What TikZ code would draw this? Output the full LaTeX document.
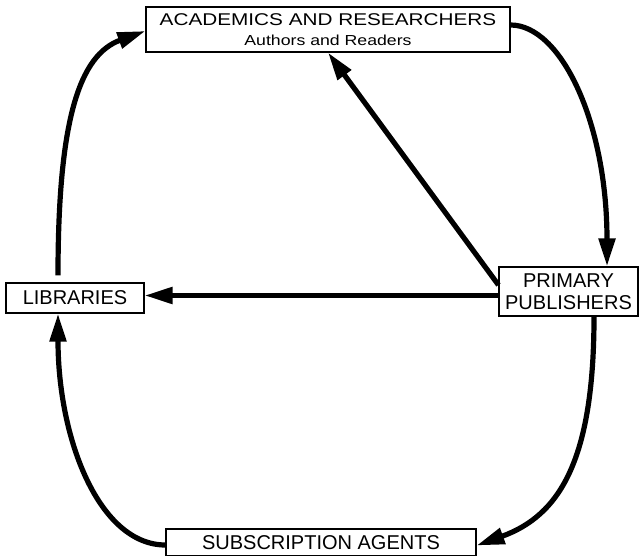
\documentclass[tikz,border=0pt]{standalone}
\usepackage{fontspec}
\setmainfont{Liberation Sans}
\newfontfamily\widefont[FakeStretch=1.22]{Liberation Sans}
\usetikzlibrary{arrows.meta}

\begin{document}
\begin{tikzpicture}[x=1pt, y=-1pt,
        box/.style={draw, line width=1.1pt, inner sep=0pt, align=center, font=\fontsize{20}{22}\selectfont},
        flow/.style={line width=5.2pt, -{Triangle[length=28pt, width=16pt]}}]
            \useasboundingbox (0,0) rectangle (639,556);
            \node[box, minimum width=364pt, minimum height=45pt] (acad) at (328,29.5)
                {{\widefont\fontsize{17}{12}\selectfont ACADEMICS AND RESEARCHERS}\\[-2pt]{\widefont\fontsize{14.5}{12}\selectfont Authors and Readers}};
            \node[box, minimum width=139pt, minimum height=49pt] (pub) at (568.5,291.5) {PRIMARY\\PUBLISHERS};
            \node[box, minimum width=138pt, minimum height=30pt] (lib) at (75,298) {LIBRARIES};
            \node[box, minimum width=310pt, minimum height=27pt] (subs) at (321,542.5) {SUBSCRIPTION AGENTS};
            \draw[flow, shorten <=7pt] ([xshift=-17pt]lib.north) .. controls +(0,-163) and +(-66,24) .. ([yshift=-1.5pt]acad.west);
            \draw[flow] ([yshift=4.5pt]acad.east) .. controls +(50,0) and +(0,-145) .. ([xshift=38.5pt]pub.north);
            \draw[flow] ([yshift=6.5pt]pub.west) -- (acad.south);
            \draw[flow] ([yshift=-4pt]pub.west) -- ([yshift=2.5pt]lib.east);
            \draw[flow] ([xshift=25.5pt]pub.south) .. controls +(0,144) and +(83,-30) .. ([yshift=-3pt]subs.east);
            \draw[flow] ([yshift=-2.5pt]subs.west) .. controls +(-66,0) and +(0,126) .. ([xshift=-17pt]lib.south);
        \end{tikzpicture}
\end{document}
